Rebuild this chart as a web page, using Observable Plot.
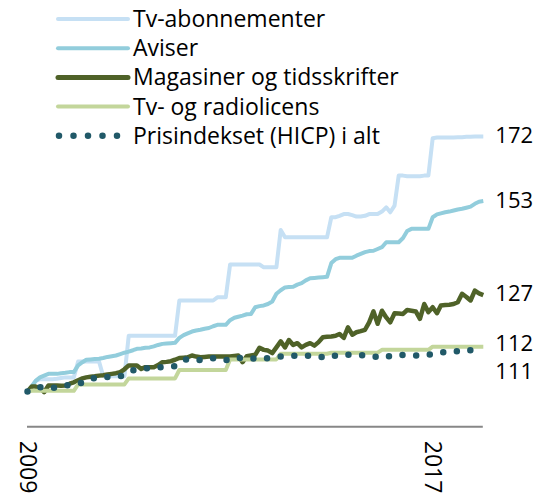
<!DOCTYPE html>
<html>
<head>
<meta charset="utf-8">
<script src="https://cdn.jsdelivr.net/npm/d3@7"></script>
<script src="https://cdn.jsdelivr.net/npm/@observablehq/plot@0.6"></script>
<style>
  body { margin: 0; background: #fff; }
  #wrap { position: relative; width: 542px; height: 497px; font-family: "Open Sans", sans-serif; }
  #legend { position: absolute; left: 0; top: 0; pointer-events: none; }
</style>
</head>
<body>
<div id="wrap"></div>
<script>
// ---- Data (monthly index, Jan 2009 = 100) ----
const startYear = 2009;
const seriesNames = ["Tv-abonnementer", "Aviser", "Magasiner og tidsskrifter", "Tv- og radiolicens", "Prisindekset (HICP) i alt"];
const seriesColors = ["#c6e0f4", "#92cddc", "#4f6228", "#c3d69b", "#215968"];
const endLabels = ["172", "153", "127", "112", "111"];
const xTickYears = [2009, 2017];

const tvAbonnementer = [
  100,101.5,103,103.5,103.5,103.5,103.5,103.6,103.8,104,104,104,
  108.5,108.5,108.5,108.5,108.5,108.5,104.3,104.3,104.3,104.3,104.3,104.3,
  115.8,115.8,115.8,115.8,115.8,115.8,115.8,115.8,115.8,115.8,115.8,115.8,
  125.8,125.8,125.8,125.8,125.8,125.8,125.8,125.8,125.8,126.7,126.7,126.7,
  136,136,136,136,136,136,136,136,135.2,135.2,135.2,135.2,
  145.8,143.7,143.7,143.7,143.7,143.7,143.7,143.7,143.7,143.7,143.7,143.7,
  149.4,149.4,149.8,150.3,150.3,150,149.6,149.6,149.8,150.3,150.3,150.3,
  151,152.2,150.8,152.7,161.2,161.2,161,161,161,161,161.2,161.2,
  171.8,172,172,172,172,172,172.1,172.1,172.2,172.2,172.3,172.3,
  172.3
];
const aviser = [
  100,101.5,103,104,104.5,105,105,105,105.2,105.3,105.5,105.5,
  107.4,108.3,109,109.1,109.2,109.3,109.5,109.8,110,110.2,110.6,111,
  111.3,111.7,112.1,112.2,112.4,112.5,112.8,113.2,113.5,113.6,113.7,113.8,
  115.2,116,116.5,117,117.3,117.5,117.8,118,118.5,118.9,118.9,118.9,
  120.2,120.9,121.2,121.5,121.9,122,123.9,124.2,124.4,124.8,125.5,127.7,
  128.7,129.5,129.6,129.7,130.3,130.7,131.5,132.1,132.2,132.3,132.4,132.5,
  136.4,137.5,137.9,137.9,137.9,137.9,138.5,139,139.5,139.8,139.9,140.4,
  140.9,142.3,142.3,142.3,142.3,143.5,145.5,146.1,146.1,146.1,146.1,146.1,
  149.4,150.2,150.5,150.8,151,151.3,151.6,151.8,152.1,152.4,153.2,153.8,
  154
];
const magasiner = [
  100,101.4,101.4,101,99.8,101.7,101.7,101.7,101.6,101.7,102.2,102.6,
  103.2,103.7,104,104.2,104.3,104.5,104.6,104.8,105,105.2,105.5,106.3,
  107.4,107.4,107.4,106.4,106.9,106.9,106.9,107.5,108.3,108.4,108.6,109,
  109.5,109.6,109.7,110.2,109.9,109.7,109.8,109.9,109.9,109.9,109.9,109.9,
  109.9,110.1,110.2,108.3,110,110.2,110.4,112.4,111.8,111.6,110.9,112.5,
  114.2,112.5,114.6,113.2,113.7,112.5,113.2,113.7,113,114,115.4,115.5,
  115.6,115.8,116.3,115.2,118.2,116.1,116.8,117.1,117.5,119.6,122.7,119.2,
  122.9,121,119.6,122.2,122.1,122,123.1,122.9,122.7,120.6,124.8,122.5,
  123.9,122.2,124.4,124.5,124.6,124.8,125.3,127.7,126.8,125.8,128.6,127.8,
  127.3
];
const lisens = [
  100,100.2,100.2,100.2,100.2,100.2,100.2,100.2,100.2,100.2,100.2,100.2,
  102,102,102,102,102,102,102,102,102,102,102,102,
  103.7,103.7,103.7,103.7,103.7,103.7,103.7,103.7,103.7,103.7,103.7,103.7,
  106.1,106.1,106.1,106.1,106.1,106.1,106.1,106.1,106.1,106.1,106.1,106.1,
  109.1,109.1,109.1,109.1,109.1,109.1,109.1,109.1,109.1,109.1,109.1,109.1,
  110.7,110.7,110.7,110.7,110.7,110.7,110.7,110.7,110.7,110.7,110.7,110.7,
  111,111,111,111,111,111,111,111,111,111,111,111,
  111.8,111.8,111.8,111.8,111.8,111.8,111.8,111.8,111.8,111.8,111.8,111.8,
  112.7,112.7,112.7,112.7,112.7,112.7,112.7,112.7,112.7,112.7,112.7,112.7,
  112.7
];
const hicp = [
  100,100.5,101,101.2,101.3,101.2,101,101.2,101.5,101.7,101.9,102,
  102.2,102.5,103,103.5,103.8,104,104,104.1,104.2,104.2,104.3,104.8,
  105.5,106,106,106.3,106.5,106.7,106.8,106.8,106.9,107,107.1,107.2,
  108,108.8,109.2,109.2,109,108.9,108.9,109.2,109.4,109.5,109.3,109,
  108.8,109,109.4,109.7,109.6,109.5,109.3,109.3,109.3,109.5,109.7,109.8,
  109.9,110,110,110.1,110.1,110.1,110.1,110.1,110.1,109.9,109.7,109.5,
  109.8,110.2,110.5,110.5,110.4,110.4,110.4,110.3,110.3,110.3,110,109.7,
  109.5,109.8,110.1,110.4,110.4,110.3,110.3,110.2,110.2,110.2,110.2,110.4,
  110.7,111,111.1,111.1,111.2,111.2,111.5,111.7,111.9,111.7,111.5,111.2,
  111.1
];

// ---- Build tables ----
const seriesValues = [tvAbonnementer, aviser, magasiner, lisens, hicp];
const monthDate = i => new Date(Date.UTC(startYear, i, 1));
const tables = seriesValues.map((vals, s) => vals.map((v, i) => ({date: monthDate(i), value: v, series: seriesNames[s]})));
const lastRows = tables.map((t, s) => ({...t[t.length - 1], label: endLabels[s]}));

const labelDy = [0, 1, -1, -2, 20];
const lineWidths = [4, 4, 4.5, 4, 6.5];

const marks = [
  Plot.ruleY([90], {stroke: "#878787", strokeWidth: 2})
];
tables.forEach((t, s) => {
  if (s === 4) {
    marks.push(Plot.line(t, {x: "date", y: "value", stroke: seriesColors[s], strokeWidth: lineWidths[s],
      strokeDasharray: "0 13.7", strokeLinecap: "round", strokeLinejoin: "round"}));
  } else {
    marks.push(Plot.line(t, {x: "date", y: "value", stroke: seriesColors[s], strokeWidth: lineWidths[s],
      strokeLinejoin: "round", strokeLinecap: "butt"}));
  }
});
lastRows.forEach((r, s) => {
  marks.push(Plot.text([r], {x: "date", y: "value", text: "label", dx: 12, dy: labelDy[s],
    textAnchor: "start", fontSize: 22, lineHeight: 0.9, fill: "#000"}));
});

const chart = Plot.plot({
  width: 542,
  height: 497,
  marginLeft: 27,
  marginRight: 59.2,
  marginTop: 108.78,
  marginBottom: 70.72,
  style: {fontFamily: "'Open Sans', sans-serif", fontSize: "23px", color: "#000", background: "#fff", overflow: "visible"},
  x: {
    type: "utc",
    domain: [monthDate(0), monthDate(108)],
    ticks: xTickYears.map(y => new Date(Date.UTC(y, 0, 1))),
    tickFormat: d => String(d.getUTCFullYear()),
    tickRotate: 90,
    tickSize: 0,
    tickPadding: 14,
    line: false,
    label: null
  },
  y: {domain: [90, 180], axis: null},
  marks
});

const wrap = document.getElementById("wrap");
wrap.appendChild(chart);

// ---- Legend overlay ----
const leg = d3.select(wrap).append("svg").attr("id", "legend").attr("width", 542).attr("height", 150);
seriesNames.forEach((name, s) => {
  const y = 19 + s * 29.2;
  const ln = leg.append("line").attr("x1", 58).attr("x2", 128).attr("y1", y).attr("y2", y)
    .attr("stroke", seriesColors[s]).attr("stroke-width", s === 4 ? 6.5 : (s === 2 ? 5 : 4));
  if (s === 4) { ln.attr("x1", 59).attr("stroke-dasharray", "0 14.5").attr("stroke-linecap", "round"); }
  else { ln.attr("stroke-linecap", "round"); }
  leg.append("text").attr("x", 133).attr("y", y).attr("dy", "0.35em")
    .attr("font-family", "'Open Sans', sans-serif").attr("font-size", 23).attr("fill", "#000")
    .text(name);
});
</script>
</body>
</html>
